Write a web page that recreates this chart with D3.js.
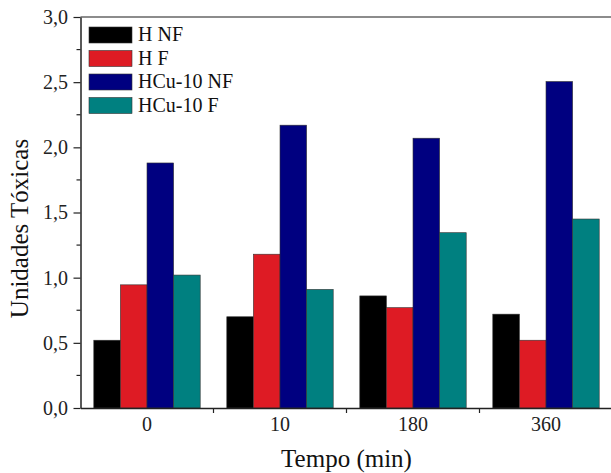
<!DOCTYPE html>
<html><head><meta charset="utf-8">
<script src="https://cdn.jsdelivr.net/npm/d3@7"></script>
<style>body{margin:0;background:#fff}svg{display:block}text{font-family:"Liberation Serif","Times New Roman",serif}</style>
</head><body><svg id="c" width="611" height="473"></svg>
<script>
const categories = ["0","10","180","360"];
const seriesNames = ["H NF","H F","HCu-10 NF","HCu-10 F"];
const seriesColors = ["#000000","#de1b24","#000080","#008080"];
const hNF   = [0.52, 0.70, 0.86, 0.72];
const hF    = [0.945, 1.18, 0.77, 0.52];
const hcuNF = [1.88, 2.17, 2.07, 2.505];
const hcuF  = [1.02, 0.91, 1.345, 1.45];
const yTicks = [0,0.5,1,1.5,2,2.5,3];
const series = [hNF,hF,hcuNF,hcuF];

const svg = d3.select("#c");
const L=80.5, R=612.5, T=17, B=408;
const x = d3.scaleBand().domain(categories).range([L,R]).paddingInner(0.2).paddingOuter(0.1);
const xs = d3.scaleBand().domain(seriesNames).range([0,x.bandwidth()]);
const y = d3.scaleLinear().domain([0,3]).range([B,T]);
const fmt = d => d3.format(".1f")(d).replace(".",",");

// bars
series.forEach((vals,si)=>{
  svg.append("g").selectAll("rect").data(vals).join("rect")
    .attr("x",(d,i)=>x(categories[i])+xs(seriesNames[si]))
    .attr("y",d=>y(d)).attr("width",xs.bandwidth()).attr("height",d=>B-y(d))
    .attr("fill",seriesColors[si]).attr("stroke","#333").attr("stroke-width",0.6);
});

// top frame line
svg.append("line").attr("x1",L).attr("x2",611).attr("y1",T).attr("y2",T).attr("stroke","#666").attr("stroke-width",1.5);

// y axis
const ya = svg.append("g").attr("transform",`translate(${L},0)`)
  .call(d3.axisLeft(y).tickValues(yTicks).tickFormat(fmt).tickSize(7).tickSizeOuter(0).tickPadding(5.5));
ya.select(".domain").attr("stroke","#222").attr("stroke-width",1.5);
ya.selectAll(".tick line").attr("stroke","#222").attr("stroke-width",1.2);
ya.selectAll("text").attr("font-size",20).attr("fill","#222");
const minor = d3.range(0.25,3,0.5);
svg.append("g").selectAll("line").data(minor).join("line")
  .attr("x1",L-4).attr("x2",L).attr("y1",d=>y(d)).attr("y2",d=>y(d)).attr("stroke","#222").attr("stroke-width",1.2);

// x axis
const xa = svg.append("g").attr("transform",`translate(0,${B})`)
  .call(d3.axisBottom(x).tickSize(0).tickSizeOuter(0).tickPadding(9));
xa.select(".domain").attr("stroke","#222").attr("stroke-width",1.5);
xa.selectAll("text").attr("font-size",20).attr("fill","#222");
const bounds = categories.slice(1).map(c=>x(c)-x.step()*x.paddingInner()/2);
svg.append("g").selectAll("line").data(bounds).join("line")
  .attr("x1",d=>d).attr("x2",d=>d).attr("y1",B).attr("y2",B+5).attr("stroke","#222").attr("stroke-width",1.2);

// titles
svg.append("text").attr("x",346.5).attr("y",466.5).attr("text-anchor","middle").attr("font-size",25).attr("fill","#111").text("Tempo (min)");
svg.append("text").attr("transform","translate(28,228.5) rotate(-90)").attr("text-anchor","middle").attr("font-size",25).attr("fill","#111").text("Unidades Tóxicas");

// legend
const lg = svg.append("g").attr("transform","translate(89,27)");
seriesNames.forEach((n,i)=>{
  const g = lg.append("g").attr("transform",`translate(0,${i*23.5})`);
  g.append("rect").attr("width",43).attr("height",16).attr("fill",seriesColors[i]).attr("stroke","#333").attr("stroke-width",0.6);
  g.append("text").attr("x",49).attr("y",14).attr("font-size",20).attr("fill","#111").text(n);
});
</script></body></html>
